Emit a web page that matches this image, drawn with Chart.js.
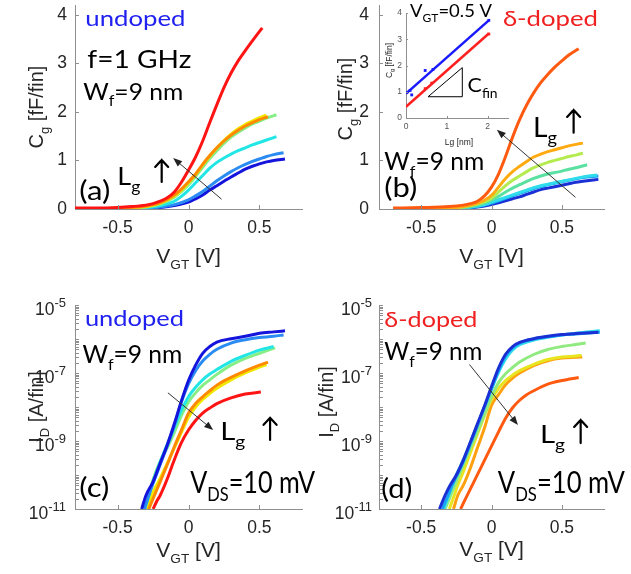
<!DOCTYPE html>
<html>
<head>
<meta charset="utf-8">
<script src="https://cdn.jsdelivr.net/npm/chart.js@4.4.1/dist/chart.umd.min.js"></script>
<style>
  html, body { margin: 0; padding: 0; background: #fff; }
  #wrap { position: relative; width: 631px; height: 574px; overflow: hidden; background: #fff; }
  canvas { position: absolute; }
</style>
</head>
<body>
<div id="wrap">
  <canvas id="ca" width="316" height="280" style="left:0;top:0"></canvas>
  <canvas id="cb" width="315" height="280" style="left:316px;top:0"></canvas>
  <canvas id="cc" width="316" height="294" style="left:0;top:280px"></canvas>
  <canvas id="cd" width="315" height="294" style="left:316px;top:280px"></canvas>
  <canvas id="ci" width="140" height="150" style="left:375px;top:0"></canvas>
</div>
<script>
// ---------- data ----------
const vgtTicks = [-0.5, 0, 0.5];
const cgTicks = [0, 1, 2, 3, 4];
const idTicks = [1e-11, 1e-9, 1e-7, 1e-5];

// (a) Cg, undoped, longest Lg first
const aColors = ['#ff1414', '#ff8a00', '#f0e800', '#86ee86', '#22e6e6', '#2a8cf2', '#1414dc'];
const aVgt = [
  [-0.8, -0.6, -0.5, -0.4, -0.3, -0.25, -0.2, -0.15, -0.1, -0.05, 0, 0.05, 0.1, 0.15, 0.2, 0.25, 0.3, 0.35, 0.4, 0.45, 0.52],
  [-0.6, -0.4, -0.3, -0.2, -0.1, -0.05, 0, 0.05, 0.1, 0.15, 0.2, 0.25, 0.3, 0.35, 0.4, 0.45, 0.5, 0.56],
  [-0.6, -0.4, -0.3, -0.2, -0.1, -0.05, 0, 0.05, 0.1, 0.15, 0.2, 0.25, 0.3, 0.35, 0.4, 0.45, 0.5, 0.55],
  [-0.6, -0.4, -0.3, -0.2, -0.1, -0.05, 0, 0.05, 0.1, 0.15, 0.2, 0.25, 0.3, 0.35, 0.4, 0.45, 0.5, 0.55, 0.62],
  [-0.5, -0.4, -0.3, -0.2, -0.1, -0.05, 0, 0.05, 0.1, 0.15, 0.2, 0.25, 0.3, 0.35, 0.4, 0.45, 0.5, 0.55, 0.62],
  [-0.45, -0.3, -0.2, -0.1, 0, 0.05, 0.1, 0.15, 0.2, 0.25, 0.3, 0.35, 0.4, 0.45, 0.5, 0.55, 0.6, 0.67],
  [-0.45, -0.3, -0.2, -0.1, 0, 0.05, 0.1, 0.15, 0.2, 0.25, 0.3, 0.35, 0.4, 0.45, 0.5, 0.55, 0.6, 0.68]
];
const aCg = [
  [0.02, 0.02, 0.03, 0.05, 0.08, 0.11, 0.16, 0.23, 0.35, 0.55, 0.8, 1.07, 1.4, 1.78, 2.15, 2.5, 2.8, 3.05, 3.26, 3.46, 3.73],
  [0.01, 0.03, 0.06, 0.13, 0.29, 0.41, 0.56, 0.72, 0.92, 1.1, 1.26, 1.4, 1.52, 1.62, 1.71, 1.78, 1.84, 1.9],
  [0.01, 0.03, 0.05, 0.12, 0.27, 0.39, 0.54, 0.71, 0.91, 1.09, 1.26, 1.41, 1.54, 1.65, 1.74, 1.81, 1.88, 1.93],
  [0, 0.02, 0.04, 0.1, 0.24, 0.36, 0.5, 0.67, 0.86, 1.04, 1.2, 1.35, 1.48, 1.58, 1.67, 1.75, 1.81, 1.87, 1.94],
  [0, 0.01, 0.03, 0.07, 0.16, 0.26, 0.39, 0.54, 0.69, 0.84, 0.96, 1.05, 1.13, 1.2, 1.26, 1.32, 1.37, 1.42, 1.49],
  [0, 0.01, 0.04, 0.09, 0.19, 0.27, 0.36, 0.47, 0.58, 0.68, 0.77, 0.85, 0.92, 0.98, 1.03, 1.08, 1.12, 1.16],
  [0, 0.01, 0.03, 0.07, 0.14, 0.21, 0.29, 0.39, 0.48, 0.57, 0.66, 0.74, 0.82, 0.88, 0.93, 0.97, 1.0, 1.03]
];

// (b) Cg, delta-doped
const bColors = ['#ff5a10', '#ffaa10', '#b4ec50', '#5ae0a0', '#30dcec', '#18a4f4', '#1a30d4'];
const bVgt = [
  [-0.7, -0.5, -0.3, -0.2, -0.15, -0.1, -0.05, 0, 0.05, 0.1, 0.15, 0.2, 0.25, 0.3, 0.35, 0.4, 0.45, 0.5, 0.55, 0.62],
  [-0.45, -0.3, -0.2, -0.1, -0.05, 0, 0.05, 0.1, 0.15, 0.2, 0.25, 0.3, 0.35, 0.4, 0.45, 0.5, 0.55, 0.6, 0.65],
  [-0.45, -0.3, -0.2, -0.1, -0.05, 0, 0.05, 0.1, 0.15, 0.2, 0.25, 0.3, 0.35, 0.4, 0.45, 0.5, 0.55, 0.6, 0.65],
  [-0.45, -0.3, -0.2, -0.1, -0.05, 0, 0.05, 0.1, 0.15, 0.2, 0.25, 0.3, 0.35, 0.4, 0.45, 0.5, 0.55, 0.6, 0.68],
  [-0.45, -0.3, -0.2, -0.1, -0.05, 0, 0.05, 0.1, 0.15, 0.2, 0.25, 0.3, 0.35, 0.4, 0.45, 0.5, 0.55, 0.6, 0.65, 0.75],
  [-0.45, -0.3, -0.2, -0.1, -0.05, 0, 0.05, 0.1, 0.15, 0.2, 0.25, 0.3, 0.35, 0.4, 0.45, 0.5, 0.55, 0.6, 0.65, 0.76],
  [-0.45, -0.3, -0.2, -0.1, -0.05, 0, 0.05, 0.1, 0.15, 0.2, 0.25, 0.3, 0.35, 0.4, 0.45, 0.5, 0.55, 0.6, 0.65, 0.76]
];
const bCg = [
  [0.02, 0.03, 0.05, 0.08, 0.11, 0.16, 0.27, 0.45, 0.72, 1.08, 1.48, 1.84, 2.14, 2.39, 2.6, 2.77, 2.92, 3.05, 3.17, 3.3],
  [0, 0.02, 0.05, 0.12, 0.18, 0.28, 0.45, 0.63, 0.77, 0.88, 0.98, 1.07, 1.13, 1.18, 1.22, 1.26, 1.3, 1.33, 1.36],
  [0, 0.01, 0.04, 0.1, 0.15, 0.22, 0.35, 0.48, 0.59, 0.68, 0.77, 0.85, 0.91, 0.96, 1.0, 1.04, 1.08, 1.11, 1.15],
  [0, 0.01, 0.03, 0.08, 0.12, 0.18, 0.26, 0.35, 0.43, 0.5, 0.57, 0.63, 0.68, 0.72, 0.75, 0.78, 0.82, 0.85, 0.91],
  [0, 0.01, 0.02, 0.06, 0.09, 0.14, 0.19, 0.24, 0.29, 0.34, 0.39, 0.44, 0.48, 0.51, 0.54, 0.57, 0.6, 0.63, 0.66, 0.7],
  [0, 0.01, 0.02, 0.05, 0.08, 0.12, 0.17, 0.22, 0.27, 0.32, 0.37, 0.42, 0.46, 0.5, 0.53, 0.56, 0.59, 0.62, 0.65, 0.68],
  [0, 0, 0.01, 0.04, 0.06, 0.09, 0.13, 0.17, 0.21, 0.25, 0.3, 0.35, 0.4, 0.43, 0.46, 0.49, 0.52, 0.55, 0.57, 0.61]
];

// (c) ID, undoped, shortest Lg first
const cColors = ['#1414dc', '#2a8cf2', '#22e6e6', '#86ee86', '#ff8a00', '#f0e800', '#ff1414'];
const cVgt = [
  [-0.33, -0.3, -0.25, -0.2, -0.15, -0.1, -0.05, 0, 0.05, 0.1, 0.15, 0.2, 0.3, 0.4, 0.5, 0.6, 0.68],
  [-0.31, -0.28, -0.25, -0.2, -0.15, -0.1, -0.05, 0, 0.05, 0.1, 0.15, 0.2, 0.3, 0.4, 0.5, 0.6, 0.67],
  [-0.31, -0.28, -0.25, -0.2, -0.15, -0.1, -0.05, 0, 0.05, 0.1, 0.15, 0.2, 0.3, 0.4, 0.5, 0.6],
  [-0.31, -0.28, -0.25, -0.2, -0.15, -0.1, -0.05, 0, 0.05, 0.1, 0.15, 0.2, 0.3, 0.4, 0.5, 0.61],
  [-0.28, -0.25, -0.2, -0.15, -0.1, -0.05, 0, 0.05, 0.1, 0.15, 0.2, 0.3, 0.4, 0.5, 0.56],
  [-0.29, -0.26, -0.2, -0.15, -0.1, -0.05, 0, 0.05, 0.1, 0.15, 0.2, 0.3, 0.4, 0.5, 0.55],
  [-0.25, -0.22, -0.2, -0.15, -0.1, -0.05, 0, 0.05, 0.1, 0.15, 0.2, 0.3, 0.4, 0.51]
];
const cId = [
  [1.0e-11, 2.5e-11, 6.3e-11, 2.2e-10, 7.6e-10, 3.2e-9, 1.5e-8, 6.0e-8, 1.7e-7, 3.8e-7, 6.0e-7, 8.1e-7, 1.02e-6, 1.2e-6, 1.48e-6, 1.62e-6, 1.74e-6],
  [1.0e-11, 2.5e-11, 5.6e-11, 2.0e-10, 7.1e-10, 2.8e-9, 1.4e-8, 4.8e-8, 1.17e-7, 2.24e-7, 3.55e-7, 5.0e-7, 7.6e-7, 9.5e-7, 1.1e-6, 1.2e-6, 1.32e-6],
  [1.0e-11, 2.5e-11, 6.3e-11, 2.4e-10, 7.9e-10, 2.5e-9, 7.9e-9, 2.0e-8, 3.8e-8, 6.3e-8, 9.3e-8, 1.26e-7, 2.2e-7, 3.3e-7, 4.7e-7, 6.0e-7],
  [1.0e-11, 2.5e-11, 7.1e-11, 2.5e-10, 6.3e-10, 1.8e-9, 5.6e-9, 1.4e-8, 2.6e-8, 4.3e-8, 6.3e-8, 9.1e-8, 1.7e-7, 2.7e-7, 3.8e-7, 5.5e-7],
  [1.0e-11, 2.0e-11, 6.3e-11, 2.0e-10, 6.8e-10, 2.1e-9, 6.6e-9, 1.26e-8, 2.0e-8, 3.0e-8, 4.4e-8, 7.4e-8, 1.15e-7, 1.7e-7, 2.1e-7],
  [1.0e-11, 2.5e-11, 7.9e-11, 2.2e-10, 6.3e-10, 1.8e-9, 5.0e-9, 1.0e-8, 1.66e-8, 2.5e-8, 3.55e-8, 6.3e-8, 1.0e-7, 1.48e-7, 1.78e-7],
  [1.0e-11, 1.8e-11, 2.5e-11, 7.6e-11, 2.8e-10, 8.9e-10, 2.1e-9, 4.0e-9, 6.6e-9, 9.3e-9, 1.26e-8, 1.86e-8, 2.4e-8, 2.75e-8]
];

// (d) ID, delta-doped
const dColors = ['#1a30d4', '#18a4f4', '#30dcec', '#90ea80', '#e8e420', '#ffa010', '#ff5a10'];
const dVgt = [
  [-0.37, -0.33, -0.3, -0.25, -0.2, -0.15, -0.1, -0.05, 0, 0.05, 0.1, 0.15, 0.2, 0.3, 0.4, 0.5, 0.6, 0.76],
  [-0.35, -0.31, -0.28, -0.25, -0.2, -0.15, -0.1, -0.05, 0, 0.05, 0.1, 0.15, 0.2, 0.3, 0.4, 0.5, 0.6, 0.77],
  [-0.34, -0.3, -0.25, -0.2, -0.15, -0.1, -0.05, 0, 0.05, 0.1, 0.15, 0.2, 0.3, 0.4, 0.5, 0.6, 0.77],
  [-0.33, -0.3, -0.25, -0.2, -0.15, -0.1, -0.05, 0, 0.05, 0.1, 0.15, 0.2, 0.3, 0.4, 0.5, 0.6, 0.67],
  [-0.3, -0.27, -0.24, -0.2, -0.15, -0.1, -0.05, 0, 0.05, 0.1, 0.15, 0.2, 0.3, 0.4, 0.5, 0.6, 0.64],
  [-0.27, -0.24, -0.2, -0.15, -0.1, -0.05, 0, 0.05, 0.1, 0.15, 0.2, 0.3, 0.4, 0.5, 0.6, 0.645],
  [-0.22, -0.2, -0.15, -0.1, -0.05, 0, 0.05, 0.1, 0.15, 0.2, 0.25, 0.3, 0.4, 0.5, 0.62]
];
const dId = [
  [1.0e-11, 2.5e-11, 4.5e-11, 1.0e-10, 2.8e-10, 9.3e-10, 3.2e-9, 1.07e-8, 4.0e-8, 1.4e-7, 3.55e-7, 6.0e-7, 7.9e-7, 1.02e-6, 1.2e-6, 1.35e-6, 1.45e-6, 1.58e-6],
  [1.0e-11, 2.5e-11, 5.0e-11, 8.9e-11, 2.5e-10, 8.3e-10, 2.8e-9, 1.0e-8, 3.55e-8, 1.2e-7, 3.16e-7, 5.5e-7, 7.6e-7, 1.0e-6, 1.17e-6, 1.32e-6, 1.41e-6, 1.58e-6],
  [1.0e-11, 2.8e-11, 1.0e-10, 2.8e-10, 8.9e-10, 3.0e-9, 1.0e-8, 3.3e-8, 1.05e-7, 2.6e-7, 4.8e-7, 6.8e-7, 9.3e-7, 1.12e-6, 1.32e-6, 1.48e-6, 1.74e-6],
  [1.0e-11, 2.0e-11, 6.3e-11, 2.0e-10, 6.3e-10, 1.9e-9, 6.0e-9, 2.0e-8, 5.2e-8, 9.5e-8, 1.45e-7, 2.1e-7, 3.5e-7, 4.9e-7, 6.0e-7, 6.9e-7, 7.6e-7],
  [1.0e-11, 2.2e-11, 5.0e-11, 1.26e-10, 4.5e-10, 1.6e-9, 5.6e-9, 1.66e-8, 3.55e-8, 6.0e-8, 8.7e-8, 1.17e-7, 1.8e-7, 2.5e-7, 2.95e-7, 3.16e-7, 3.3e-7],
  [1.0e-11, 2.5e-11, 5.0e-11, 1.6e-10, 6.3e-10, 2.4e-9, 1.12e-8, 2.3e-8, 4.5e-8, 7.1e-8, 1.0e-7, 1.66e-7, 2.3e-7, 2.75e-7, 2.9e-7, 2.95e-7],
  [1.0e-11, 1.48e-11, 3.9e-11, 1.02e-10, 2.7e-10, 7.1e-10, 1.86e-9, 4.7e-9, 9.5e-9, 1.58e-8, 2.3e-8, 3.0e-8, 4.7e-8, 6.0e-8, 7.4e-8]
];

// inset: Cg at VGT = 0.5 V vs Lg
const insetLgTicks = [0, 1, 2];
const insetCgTicks = [0, 1, 2, 3, 4];
const insetBlueLg = [0.02, 0.1, 0.14, 0.47, 0.66, 2.03];
const insetBlueCg = [0.97, 1.05, 0.88, 1.81, 1.85, 3.72];
const insetRedLg = [0.47, 0.63, 2.03];
const insetRedCg = [1.12, 1.33, 3.2];
const insetFitLg = [0, 2.03];
const insetBlueFit = [0.93, 3.72];
const insetRedFit = [0.43, 3.22];
const insetTriLg = [0.54, 1.38, 1.38, 0.54];
const insetTriCg = [0.81, 0.81, 1.92, 0.81];

// ---------- drawing helpers ----------
const AXIS = '#8f8f8f';
const INK = '#262626';
const SANS = '"Liberation Sans", Arial, sans-serif';
const NOTE = 'Lato, "Open Sans", sans-serif';
const BLUE_TXT = '#2020f0';
const RED_TXT = '#f02020';

function rich(s) {
  const parts = [];
  const re = /([_^])\{([^}]*)\}/g;
  let last = 0, m;
  while ((m = re.exec(s))) {
    if (m.index > last) parts.push({ t: s.slice(last, m.index) });
    parts.push({ t: m[2], sub: m[1] === '_', sup: m[1] === '^' });
    last = re.lastIndex;
  }
  if (last < s.length) parts.push({ t: s.slice(last) });
  return parts;
}
function richWidth(ctx, parts, size, fam) {
  let w = 0;
  for (const p of parts) {
    ctx.font = (p.sub || p.sup ? size * 0.65 : size) + 'px ' + fam;
    w += ctx.measureText(p.t).width;
  }
  return w;
}
function drawRich(ctx, parts, size, fam) {
  let x = 0;
  for (const p of parts) {
    ctx.font = (p.sub || p.sup ? size * 0.65 : size) + 'px ' + fam;
    ctx.fillText(p.t, x, p.sub ? size * 0.28 : p.sup ? -size * 0.42 : 0);
    x += ctx.measureText(p.t).width;
  }
}

const deco = {
  id: 'deco',
  afterDraw(chart, _args, o) {
    const ctx = chart.ctx, a = chart.chartArea;
    const xs = chart.scales.x, ys = chart.scales.y;
    ctx.save();
    ctx.textAlign = 'left';
    ctx.textBaseline = 'alphabetic';

    // inward tick marks
    ctx.strokeStyle = AXIS;
    ctx.lineWidth = 1;
    ctx.beginPath();
    xs.ticks.forEach((t) => {
      const p = Math.round(xs.getPixelForValue(t.value)) + 0.5;
      ctx.moveTo(p, a.bottom);
      ctx.lineTo(p, a.bottom - o.tick);
    });
    const yMarks = o.minorY || ys.ticks.map((t) => t.value);
    yMarks.forEach((v) => {
      const p = Math.round(ys.getPixelForValue(v)) + 0.5;
      ctx.moveTo(a.left, p);
      ctx.lineTo(a.left + o.tick, p);
    });
    ctx.stroke();

    // 10^n labels on log axes
    if (o.logLabels) {
      ctx.fillStyle = INK;
      o.logLabels.forEach((v) => {
        const py = ys.getPixelForValue(v);
        const ex = String(Math.round(Math.log10(v)));
        ctx.font = '13px ' + SANS;
        const ws = ctx.measureText(ex).width;
        ctx.font = '17.5px ' + SANS;
        const wb = ctx.measureText('10').width;
        const xr = a.left - o.logGap;
        ctx.fillText('10', xr - ws - wb, py + 10);
        ctx.font = '13px ' + SANS;
        ctx.fillText(ex, xr - ws, py + 1.5);
      });
    }

    // axis titles
    ctx.fillStyle = INK;
    if (o.xTitle) {
      const t = o.xTitle, parts = rich(t.text);
      const w = richWidth(ctx, parts, t.size, SANS);
      ctx.save();
      ctx.translate(xs.getPixelForValue(t.cx) - w / 2, a.bottom + t.dy);
      drawRich(ctx, parts, t.size, SANS);
      ctx.restore();
    }
    if (o.yTitle) {
      const t = o.yTitle, parts = rich(t.text);
      const w = richWidth(ctx, parts, t.size, SANS);
      ctx.save();
      ctx.translate(a.left - t.dx, (a.top + a.bottom) / 2 + t.dc);
      ctx.rotate(-Math.PI / 2);
      ctx.translate(-w / 2, 0);
      drawRich(ctx, parts, t.size, SANS);
      ctx.restore();
    }

    // text notes
    (o.notes || []).forEach((n) => {
      const parts = rich(n.text);
      const nat = richWidth(ctx, parts, n.size, NOTE);
      ctx.save();
      ctx.fillStyle = n.color || '#000';
      ctx.translate(xs.getPixelForValue(n.x), ys.getPixelForValue(n.y));
      ctx.scale(n.w ? n.w / nat : 1, 1);
      drawRich(ctx, parts, n.size, NOTE);
      ctx.restore();
    });

    // thick up arrows next to Lg
    ctx.strokeStyle = '#000';
    ctx.lineWidth = 2.2;
    ctx.lineCap = 'round';
    (o.ups || []).forEach((u) => {
      const x = xs.getPixelForValue(u.x);
      const yb = ys.getPixelForValue(u.y0), yt = ys.getPixelForValue(u.y1);
      ctx.beginPath();
      ctx.moveTo(x, yb);
      ctx.lineTo(x, yt);
      ctx.moveTo(x - 6.5, yt + 7);
      ctx.lineTo(x, yt);
      ctx.lineTo(x + 6.5, yt + 7);
      ctx.stroke();
    });

    // thin pointer arrows
    ctx.strokeStyle = '#333';
    ctx.fillStyle = '#222';
    ctx.lineWidth = 1;
    (o.arrows || []).forEach((r) => {
      const x0 = xs.getPixelForValue(r.from[0]), y0 = ys.getPixelForValue(r.from[1]);
      const x1 = xs.getPixelForValue(r.to[0]), y1 = ys.getPixelForValue(r.to[1]);
      const ang = Math.atan2(y1 - y0, x1 - x0);
      ctx.beginPath();
      ctx.moveTo(x0, y0);
      ctx.lineTo(x1 - 7 * Math.cos(ang), y1 - 7 * Math.sin(ang));
      ctx.stroke();
      ctx.beginPath();
      ctx.moveTo(x1, y1);
      ctx.lineTo(x1 - 9 * Math.cos(ang) + 3.5 * Math.sin(ang), y1 - 9 * Math.sin(ang) - 3.5 * Math.cos(ang));
      ctx.lineTo(x1 - 9 * Math.cos(ang) - 3.5 * Math.sin(ang), y1 - 9 * Math.sin(ang) + 3.5 * Math.cos(ang));
      ctx.closePath();
      ctx.fill();
    });
    ctx.restore();
  }
};

function curves(xsArr, ysArr, colors) {
  return xsArr.map((xs, i) => ({
    data: xs.map((x, j) => ({ x, y: ysArr[i][j] })),
    borderColor: colors[i],
    borderWidth: 3,
    pointRadius: 0,
    fill: false,
    cubicInterpolationMode: 'monotone'
  }));
}

function logMarks(min, max) {
  const out = [];
  for (let e = Math.round(Math.log10(min)); e < Math.round(Math.log10(max)); e++) {
    for (let m = 1; m < 10; m++) out.push(m * Math.pow(10, e));
  }
  out.push(max);
  return out;
}

function panel(id, p) {
  const tickFont = { family: SANS, size: p.tickSize || 17.5 };
  const yScale = p.log
    ? {
        type: 'logarithmic', min: idTicks[0], max: idTicks[idTicks.length - 1],
        afterBuildTicks: (s) => { s.ticks = idTicks.map((v) => ({ value: v })); },
        ticks: { display: false }
      }
    : {
        type: 'linear', min: p.yMin, max: p.yMax,
        afterBuildTicks: (s) => { s.ticks = p.yTicks.map((v) => ({ value: v })); },
        ticks: { color: p.tickColor || INK, font: tickFont, padding: p.yPad }
      };
  Object.assign(yScale, {
    // fixed axis box so the plot area lands where the reference has it
    afterFit: (s) => { s.width = p.yW; s.paddingTop = 0; s.paddingBottom = 0; },
    grid: { display: false, drawTicks: false },
    border: { display: true, color: AXIS }
  });
  return new Chart(document.getElementById(id), {
    type: 'line',
    data: { datasets: p.datasets },
    options: {
      responsive: false,
      animation: false,
      events: [],
      layout: { padding: { top: p.padTop, right: p.padRight, bottom: 0, left: 0 } },
      plugins: { legend: { display: false }, tooltip: { enabled: false }, deco: p.deco },
      scales: {
        x: {
          type: 'linear', min: p.xMin, max: p.xMax,
          afterBuildTicks: (s) => { s.ticks = p.xTicks.map((v) => ({ value: v })); },
          afterFit: (s) => { s.height = p.xH; s.paddingLeft = 0; s.paddingRight = 0; },
          grid: { display: false, drawTicks: false },
          border: { display: true, color: AXIS },
          ticks: { color: p.tickColor || INK, font: tickFont, padding: p.xPad, maxRotation: 0 }
        },
        y: yScale
      }
    },
    plugins: [deco]
  });
}

// (a)
panel('ca', {
  datasets: curves(aVgt, aCg, aColors),
  xMin: -0.8, xMax: 0.8, xTicks: vgtTicks, yMin: 0, yMax: 4.2, yTicks: cgTicks,
  yW: 75, xH: 71, padTop: 5, padRight: 14, xPad: 9, yPad: 8,
  deco: {
    tick: 4,
    xTitle: { text: 'V_{GT} [V]', size: 21, cx: 0, dy: 54 },
    yTitle: { text: 'C_{g} [fF/fin]', size: 20, dx: 32, dc: 0 },
    notes: [
      { x: -0.727, y: 3.76, text: 'undoped', size: 21, w: 100, color: BLUE_TXT },
      { x: -0.713, y: 2.91, text: 'f=1 GHz', size: 25, w: 104 },
      { x: -0.742, y: 2.25, text: 'W_{f}=9 nm', size: 24, w: 100 },
      { x: -0.77, y: 0.186, text: '(a)', size: 27, w: 31 },
      { x: -0.502, y: 0.495, text: 'L_{g}', size: 25, w: 23 }
    ],
    ups: [{ x: -0.189, y0: 0.557, y1: 1.01 }],
    arrows: [{ from: [0.231, 0.206], to: [-0.108, 1.05] }]
  }
});

// (b)
panel('cb', {
  datasets: curves(bVgt, bCg, bColors),
  xMin: -0.8, xMax: 0.8, xTicks: vgtTicks, yMin: 0, yMax: 4.2, yTicks: cgTicks,
  yW: 63, xH: 71, padTop: 5, padRight: 27, xPad: 9, yPad: 10,
  deco: {
    tick: 4,
    xTitle: { text: 'V_{GT} [V]', size: 21, cx: 0, dy: 54 },
    yTitle: { text: 'C_{g} [fF/fin]', size: 20, dx: 27, dc: -8 },
    notes: [
      { x: 0.081, y: 3.76, text: 'δ-doped', size: 21, w: 95, color: RED_TXT },
      { x: 0.295, y: 1.48, text: 'L_{g}', size: 26, w: 24 },
      { x: -0.762, y: 0.804, text: 'W_{f}=9 nm', size: 25, w: 100 },
      { x: -0.762, y: 0.247, text: '(b)', size: 27, w: 33 }
    ],
    ups: [{ x: 0.584, y0: 1.57, y1: 2.04 }],
    arrows: [{ from: [0.595, 0.247], to: [0.038, 1.63] }]
  }
});

// (c)
panel('cc', {
  log: true,
  datasets: curves(cVgt, cId, cColors),
  xMin: -0.8, xMax: 0.8, xTicks: vgtTicks,
  yW: 75, xH: 65, padTop: 25, padRight: 14, xPad: 9,
  deco: {
    tick: 4,
    minorY: logMarks(idTicks[0], idTicks[idTicks.length - 1]),
    logLabels: idTicks, logGap: 9,
    xTitle: { text: 'V_{GT} [V]', size: 21, cx: 0, dy: 48 },
    yTitle: { text: 'I_{D} [A/fin]', size: 20, dx: 32, dc: 0 },
    notes: [
      { x: -0.73, y: 2.4e-6, text: 'undoped', size: 21, w: 99, color: BLUE_TXT },
      { x: -0.748, y: 1.95e-7, text: 'W_{f}=9 nm', size: 25, w: 100 },
      { x: 0.223, y: 1.07e-9, text: 'L_{g}', size: 25, w: 25 },
      { x: -0.77, y: 2.24e-11, text: '(c)', size: 27, w: 30 },
      { x: 0.012, y: 2.95e-11, text: 'V_{DS}=10 mV', size: 30, w: 125 }
    ],
    ups: [{ x: 0.575, y0: 1.07e-9, y1: 4.8e-9 }],
    arrows: [{ from: [-0.143, 2.57e-8], to: [0.174, 2.09e-9] }]
  }
});

// (d)
panel('cd', {
  log: true,
  datasets: curves(dVgt, dId, dColors),
  xMin: -0.8, xMax: 0.8, xTicks: vgtTicks,
  yW: 63, xH: 65, padTop: 25, padRight: 27, xPad: 9,
  deco: {
    tick: 4,
    minorY: logMarks(idTicks[0], idTicks[idTicks.length - 1]),
    logLabels: idTicks, logGap: 7,
    xTitle: { text: 'V_{GT} [V]', size: 21, cx: 0, dy: 47 },
    yTitle: { text: 'I_{D} [A/fin]', size: 20, dx: 46, dc: -5 },
    notes: [
      { x: -0.762, y: 2.24e-6, text: 'δ-doped', size: 21, w: 93, color: RED_TXT },
      { x: -0.762, y: 2.4e-7, text: 'W_{f}=9 nm', size: 25, w: 98 },
      { x: 0.345, y: 8.7e-10, text: 'L_{g}', size: 25, w: 25 },
      { x: -0.784, y: 2.1e-11, text: '(d)', size: 27, w: 31 },
      { x: 0.045, y: 2.95e-11, text: 'V_{DS}=10 mV', size: 30, w: 127 }
    ],
    ups: [{ x: 0.634, y0: 8.7e-10, y1: 4.17e-9 }],
    arrows: [{ from: [-0.155, 1.74e-7], to: [0.188, 2.95e-9] }]
  }
});

// inset in (b)
const pts = (xs, ys) => xs.map((x, i) => ({ x, y: ys[i] }));
panel('ci', {
  datasets: [
    { data: pts(insetBlueLg, insetBlueCg), showLine: false, pointStyle: 'rect', pointRadius: 2, backgroundColor: '#1a1aff', borderColor: '#1a1aff', borderWidth: 0 },
    { data: pts(insetRedLg, insetRedCg), showLine: false, pointStyle: 'rect', pointRadius: 2, backgroundColor: '#ff2020', borderColor: '#ff2020', borderWidth: 0 },
    { data: pts(insetFitLg, insetBlueFit), borderColor: '#1a1aff', borderWidth: 2.5, pointRadius: 0, tension: 0 },
    { data: pts(insetFitLg, insetRedFit), borderColor: '#ff2020', borderWidth: 2.5, pointRadius: 0, tension: 0 },
    { data: pts(insetTriLg, insetTriCg), borderColor: '#000', borderWidth: 1, pointRadius: 0, tension: 0 }
  ],
  xMin: 0, xMax: 2.5, xTicks: insetLgTicks, yMin: 0, yMax: 4, yTicks: insetCgTicks,
  yW: 31, xH: 32, padTop: 13, padRight: 7, xPad: 4, yPad: 4, tickSize: 8.5, tickColor: '#555',
  deco: {
    tick: 2,
    xTitle: { text: 'Lg [nm]', size: 8.5, cx: 1.3, dy: 27 },
    yTitle: { text: 'C_{g} [fF/fin]', size: 8.5, dx: 14, dc: -5 },
    notes: [
      { x: 0.1, y: 3.85, text: 'V_{GT}=0.5 V', size: 17, w: 82 },
      { x: 1.51, y: 0.99, text: 'C_{fin}', size: 20, w: 30 }
    ]
  }
});
</script>
</body>
</html>
